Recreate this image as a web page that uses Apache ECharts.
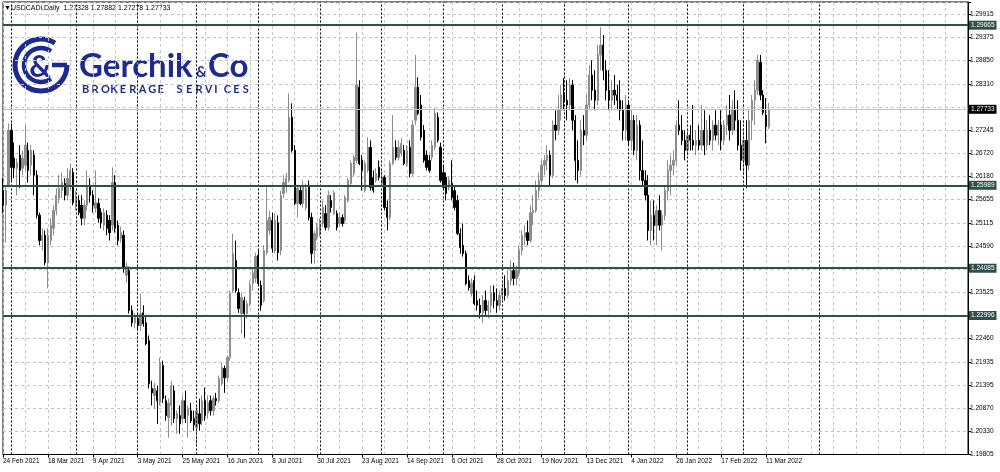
<!DOCTYPE html>
<html>
<head>
<meta charset="utf-8">
<script src="https://cdn.jsdelivr.net/npm/echarts@6/dist/echarts.min.js"></script>
<style>
html,body{margin:0;padding:0;background:#ffffff;}
#chart{width:1000px;height:472px;}
</style>
</head>
<body>
<div id="chart"></div>
<script>
// ---------- data ----------
const headerText = '\u25BCUSDCADi,Daily  1.27328 1.27882 1.27278 1.27733';
const startDate = [2021, 2, 24];       // 24 Feb 2021 (first visible bar)
const slotCount = 345;                  // bars + empty shift to the right
const futureSeparatorIdx = 291;         // 1 Apr 2022 as placed in the empty area
const monthNames = ['Jan','Feb','Mar','Apr','May','Jun','Jul','Aug','Sep','Oct','Nov','Dec'];
const priceTicks = ['1.19805','1.20330','1.20870','1.21395','1.21935','1.22460','1.22995','1.23525','1.24065','1.24590',
                    '1.25115','1.25655','1.26180','1.26720','1.27245','1.27770','1.28310','1.28850','1.29375','1.29915'];
const levelPrices = [1.29665, 1.25989, 1.24085, 1.22996];
const levelLabels = ['1.29665', '1.25989', '1.24085', '1.22996'];
const lastPrice = 1.27733;
const lastPriceLabel = '1.27733';

const opens = [
1.2587,1.2553,1.2599,1.2725,1.2661,1.2638,1.2668,1.2638,1.2645,1.2679,
1.2645,1.2668,1.2622,1.2530,1.2472,1.2484,1.2421,1.2472,1.2500,1.2541,
1.2569,1.2587,1.2603,1.2576,1.2599,1.2628,1.2553,1.2564,1.2553,1.2523,
1.2553,1.2599,1.2576,1.2546,1.2557,1.2536,1.2507,1.2530,1.2518,1.2507,
1.2605,1.2507,1.2477,1.2484,
1.2392,1.2403,1.2311,1.2283,1.2293,1.2277,
1.2306,1.2283,1.2242,1.2132,1.2116,1.2127,1.2099,1.2185,1.2104,1.2065,
1.2093,1.2127,1.2063,1.2070,1.2063,1.2104,1.2070,1.2081,1.2063,1.2042,
1.2074,1.2058,1.2104,1.2076,1.2104,1.2081,1.2109,1.2104,1.2143,1.2178,
1.2157,1.2203,1.2357,1.2426,1.2352,1.2304,1.2334,1.2304,1.2327,1.2373,1.2385,
1.2438,1.2369,1.2334,1.2444,1.2495,1.2518,1.2449,1.2513,1.2449,
1.2580,1.2599,1.2610,1.2755,1.2679,1.2557,1.2587,1.2557,1.2548,1.2599,
1.2525,1.2449,1.2479,1.2488,1.2511,1.2534,1.2502,1.2564,1.2534,1.2534,
1.2511,1.2525,1.2518,1.2564,1.2603,1.2626,1.2656,1.2824,1.2656,1.2587,
1.2633,1.2686,1.2617,1.2610,1.2640,1.2603,1.2617,1.2548,1.2525,1.2649,
1.2686,1.2663,1.2672,1.2679,1.2649,1.2686,1.2626,1.2748,1.2824,1.2783,
1.2725,1.2668,1.2656,1.2663,1.2686,1.2755,1.2686,1.2628,1.2617,1.2594,
1.2603,1.2587,1.2564,1.2488,1.2461,1.2442,1.2380,1.2350,1.2380,
1.2334,1.2323,1.2306,1.2334,1.2311,1.2323,1.2352,1.2334,1.2323,1.2346,1.2362,
1.2346,1.2380,1.2403,1.2385,1.2398,1.2449,1.2479,1.2490,1.2472,1.2536,
1.2541,1.2587,1.2610,1.2645,1.2656,1.2668,1.2622,1.2737,1.2725,1.2771,
1.2806,1.2794,1.2783,1.2829,1.2748,1.2656,1.2633,1.2725,1.2714,1.2783,
1.2852,1.2817,1.2794,1.2898,1.2921,1.2863,1.2817,1.2794,1.2817,1.2806,
1.2794,1.2771,1.2725,1.2783,1.2702,1.2748,1.2679,1.2737,1.2633,1.2610,
1.2576,1.2495,1.2530,1.2507,1.2541,1.2507,1.2530,1.2587,1.2633,1.2645,
1.2656,1.2737,1.2725,1.2702,1.2679,1.2714,1.2702,1.2691,1.2702,1.2691,
1.2725,1.2691,1.2725,1.2702,1.2737,1.2714,1.2737,1.2702,1.2737,1.2760,
1.2725,1.2771,1.2748,1.2691,1.2656,1.2702,1.2645,1.2748,1.2794,1.2817,
1.2881,1.2806,1.2760,1.27328
];
const highs = [
1.2615,1.2596,1.2741,1.2741,1.2697,1.2661,1.2691,1.2679,1.2737,1.2697,
1.2691,1.2679,1.2633,1.2536,1.2500,1.2495,1.2500,1.2523,1.2553,1.2592,
1.2622,1.2628,1.2615,1.2638,1.2649,1.2638,1.2587,1.2576,1.2576,1.2564,
1.2633,1.2615,1.2587,1.2633,1.2569,1.2546,1.2546,1.2541,1.2530,1.2640,
1.2622,1.2518,1.2504,1.2495,
1.2421,1.2412,1.2323,1.2306,1.2306,1.2350,
1.2323,1.2297,1.2254,1.2150,1.2145,1.2139,1.2203,1.2196,1.2116,1.2109,
1.2150,1.2139,1.2081,1.2093,1.2116,1.2127,1.2093,1.2099,1.2081,1.2093,
1.2109,1.2116,1.2134,1.2116,1.2116,1.2116,1.2122,1.2162,1.2191,1.2185,
1.2208,1.2357,1.2488,1.2472,1.2362,1.2352,1.2343,1.2334,1.2380,1.2408,1.2444,
1.2449,1.2380,1.2461,1.2594,1.2541,1.2536,1.2534,1.2530,1.2587,
1.2622,1.2628,1.2810,1.2787,1.2691,1.2599,1.2599,1.2610,1.2603,1.2610,
1.2536,1.2495,1.2513,1.2523,1.2564,1.2553,1.2587,1.2576,1.2587,1.2541,
1.2536,1.2532,1.2576,1.2615,1.2656,1.2668,1.2950,1.2840,1.2668,1.2656,
1.2709,1.2702,1.2633,1.2638,1.2656,1.2633,1.2622,1.2564,1.2656,1.2760,
1.2702,1.2702,1.2707,1.2691,1.2691,1.2702,1.2748,1.2898,1.2847,1.2806,
1.2737,1.2679,1.2668,1.2702,1.2776,1.2766,1.2697,1.2645,1.2628,1.2619,
1.2656,1.2599,1.2576,1.2500,1.2511,1.2449,1.2392,1.2385,1.2392,
1.2357,1.2339,1.2346,1.2357,1.2334,1.2369,1.2369,1.2362,1.2357,1.2375,1.2392,
1.2403,1.2426,1.2421,1.2415,1.2461,1.2495,1.2507,1.2518,1.2553,1.2576,
1.2610,1.2628,1.2656,1.2668,1.2691,1.2679,1.2748,1.2771,1.2806,1.2829,
1.2845,1.2840,1.2845,1.2840,1.2760,1.2702,1.2748,1.2760,1.2806,1.2875,
1.2886,1.2863,1.2921,1.2962,1.2944,1.2886,1.2863,1.2840,1.2852,1.2829,
1.2840,1.2794,1.2806,1.2794,1.2771,1.2760,1.2760,1.2748,1.2702,1.2633,
1.2622,1.2564,1.2564,1.2553,1.2576,1.2541,1.2599,1.2656,1.2668,1.2679,
1.2748,1.2794,1.2760,1.2725,1.2725,1.2737,1.2783,1.2725,1.2737,1.2783,
1.2771,1.2748,1.2760,1.2748,1.2771,1.2748,1.2771,1.2748,1.2783,1.2806,
1.2794,1.2817,1.2794,1.2748,1.2725,1.2748,1.2771,1.2806,1.2840,1.2898,
1.2898,1.2817,1.2799,1.27882
];
const lows = [
1.2536,1.2467,1.2594,1.2610,1.2615,1.2576,1.2592,1.2622,1.2633,1.2605,
1.2622,1.2576,1.2523,1.2461,1.2449,1.2415,1.2362,1.2461,1.2484,1.2530,
1.2557,1.2569,1.2564,1.2564,1.2587,1.2553,1.2541,1.2530,1.2507,1.2507,
1.2541,1.2559,1.2536,1.2536,1.2513,1.2500,1.2495,1.2484,1.2472,1.2495,
1.2490,1.2461,1.2467,1.2398,
1.2375,1.2304,1.2274,1.2270,1.2265,1.2265,
1.2274,1.2231,1.2132,1.2093,1.2086,1.2051,1.2093,1.2099,1.2058,1.2019,
1.2047,1.2053,1.2028,1.2028,1.2053,1.2053,1.2019,1.2053,1.2035,1.2001,
1.2035,1.2047,1.2058,1.2063,1.2070,1.2070,1.2093,1.2099,1.2139,1.2122,
1.2150,1.2196,1.2352,1.2352,1.2306,1.2258,1.2249,1.2293,1.2320,1.2357,1.2375,
1.2369,1.2311,1.2329,1.2438,1.2484,1.2444,1.2442,1.2426,1.2438,
1.2569,1.2582,1.2605,1.2674,1.2553,1.2525,1.2553,1.2548,1.2541,1.2518,
1.2419,1.2419,1.2472,1.2481,1.2504,1.2495,1.2495,1.2536,1.2530,1.2495,
1.2504,1.2504,1.2511,1.2559,1.2599,1.2619,1.2649,1.2645,1.2587,1.2582,
1.2628,1.2587,1.2582,1.2605,1.2610,1.2599,1.2541,1.2495,1.2518,1.2645,
1.2656,1.2656,1.2665,1.2645,1.2642,1.2617,1.2619,1.2737,1.2760,1.2702,
1.2651,1.2633,1.2628,1.2656,1.2679,1.2697,1.2605,1.2587,1.2564,1.2587,
1.2564,1.2541,1.2484,1.2442,1.2435,1.2369,1.2357,1.2343,1.2323,
1.2311,1.2293,1.2283,1.2300,1.2293,1.2306,1.2316,1.2306,1.2311,1.2334,1.2334,
1.2339,1.2369,1.2369,1.2369,1.2389,1.2438,1.2461,1.2461,1.2467,1.2507,
1.2536,1.2569,1.2599,1.2622,1.2633,1.2599,1.2615,1.2702,1.2714,1.2748,
1.2771,1.2748,1.2771,1.2725,1.2610,1.2603,1.2622,1.2691,1.2702,1.2771,
1.2794,1.2771,1.2783,1.2863,1.2840,1.2794,1.2771,1.2771,1.2783,1.2771,
1.2748,1.2702,1.2702,1.2691,1.2679,1.2668,1.2656,1.2610,1.2599,1.2564,
1.2472,1.2461,1.2472,1.2461,1.2495,1.2449,1.2518,1.2564,1.2576,1.2622,
1.2645,1.2714,1.2691,1.2656,1.2668,1.2679,1.2679,1.2668,1.2679,1.2679,
1.2668,1.2679,1.2691,1.2679,1.2702,1.2691,1.2679,1.2691,1.2714,1.2702,
1.2714,1.2725,1.2679,1.2633,1.2622,1.2592,1.2633,1.2702,1.2737,1.2806,
1.2794,1.2760,1.2695,1.27278
];
const closes = [
1.2553,1.2587,1.2725,1.2640,1.2638,1.2651,1.2633,1.2661,1.2691,1.2633,
1.2679,1.2622,1.2530,1.2472,1.2484,1.2421,1.2484,1.2507,1.2541,1.2576,
1.2592,1.2605,1.2576,1.2615,1.2633,1.2559,1.2569,1.2536,1.2523,1.2553,
1.2599,1.2576,1.2553,1.2559,1.2523,1.2513,1.2536,1.2500,1.2490,1.2605,
1.2500,1.2472,1.2490,1.2408,
1.2412,1.2311,1.2283,1.2295,1.2277,1.2304,
1.2281,1.2235,1.2143,1.2122,1.2132,1.2104,1.2191,1.2109,1.2070,1.2099,
1.2139,1.2063,1.2074,1.2051,1.2104,1.2063,1.2086,1.2058,1.2049,1.2081,
1.2051,1.2104,1.2070,1.2099,1.2081,1.2109,1.2104,1.2155,1.2180,1.2157,
1.2203,1.2350,1.2442,1.2357,1.2316,1.2341,1.2304,1.2327,1.2369,1.2398,1.2435,
1.2373,1.2323,1.2449,1.2518,1.2525,1.2454,1.2518,1.2444,1.2576,
1.2605,1.2615,1.2755,1.2679,1.2557,1.2592,1.2557,1.2599,1.2592,1.2525,
1.2442,1.2488,1.2502,1.2511,1.2548,1.2502,1.2576,1.2548,1.2582,1.2502,
1.2525,1.2511,1.2571,1.2610,1.2649,1.2663,1.2829,1.2649,1.2633,1.2649,
1.2686,1.2594,1.2587,1.2626,1.2617,1.2617,1.2548,1.2525,1.2649,1.2686,
1.2663,1.2686,1.2695,1.2649,1.2679,1.2626,1.2737,1.2824,1.2764,1.2709,
1.2656,1.2640,1.2633,1.2691,1.2764,1.2702,1.2610,1.2594,1.2580,1.2610,
1.2571,1.2548,1.2488,1.2456,1.2442,1.2373,1.2364,1.2373,1.2327,
1.2323,1.2306,1.2334,1.2311,1.2323,1.2352,1.2334,1.2323,1.2346,1.2362,1.2346,
1.2380,1.2403,1.2385,1.2403,1.2449,1.2484,1.2490,1.2472,1.2536,1.2541,
1.2587,1.2610,1.2645,1.2656,1.2668,1.2622,1.2737,1.2725,1.2771,1.2806,
1.2794,1.2783,1.2829,1.2748,1.2656,1.2633,1.2725,1.2714,1.2783,1.2852,
1.2817,1.2794,1.2898,1.2921,1.2863,1.2817,1.2794,1.2817,1.2806,1.2794,
1.2771,1.2725,1.2783,1.2702,1.2748,1.2679,1.2737,1.2633,1.2610,1.2576,
1.2495,1.2530,1.2507,1.2541,1.2507,1.2530,1.2587,1.2633,1.2645,1.2656,
1.2737,1.2725,1.2702,1.2679,1.2714,1.2702,1.2691,1.2702,1.2691,1.2725,
1.2691,1.2725,1.2702,1.2737,1.2714,1.2737,1.2702,1.2737,1.2760,1.2725,
1.2771,1.2748,1.2691,1.2656,1.2702,1.2645,1.2748,1.2794,1.2817,1.2886,
1.2806,1.2766,1.2733,1.27733
];

// ---------- build ----------
const barCount = Math.min(opens.length, highs.length, lows.length, closes.length);
const Y0 = parseFloat(priceTicks[0]);
const Y1 = parseFloat(priceTicks[priceTicks.length - 1]);
const STEP = (Y1 - Y0) / (priceTicks.length - 1);
const T = p => (p - Y0) / STEP;

const GRID_TOP = 2, GRID_BOTTOM = 17.5, GRID_LEFT = 2, GRID_RIGHT = 32;
const PX_PER_TICK = 23.168;
const yMax = (472 - GRID_TOP - GRID_BOTTOM) / PX_PER_TICK;

const dates = [];
(function () {
  const d = new Date(Date.UTC(startDate[0], startDate[1] - 1, startDate[2]));
  while (dates.length < slotCount) {
    const wd = d.getUTCDay();
    if (wd !== 0 && wd !== 6) dates.push(new Date(d.getTime()));
    d.setUTCDate(d.getUTCDate() + 1);
  }
})();
const catLabels = dates.map(dt => dt.getUTCDate() + ' ' + monthNames[dt.getUTCMonth()] + ' ' + dt.getUTCFullYear());

const candleData = [];
for (let i = 0; i < barCount; i++) {
  candleData.push([T(opens[i]), T(closes[i]), T(lows[i]), T(highs[i])]);
}

const FONT = 'Liberation Sans';
const labelFont = 6.5;

// month period separators (on existing bars) + the next one in the empty area
const sepStyle = { color: '#000', type: [2, 2], width: 1 };
const sepLines = [];
for (let i = 1; i < barCount; i++) {
  if (dates[i].getUTCMonth() !== dates[i - 1].getUTCMonth()) {
    sepLines.push({ xAxis: i, lineStyle: sepStyle, label: { show: false } });
  }
}
sepLines.push({ xAxis: futureSeparatorIdx, lineStyle: sepStyle, label: { show: false } });

const LEVEL_COLOR = '#2e4f4a';
const levelLines = levelPrices.map((p, k) => ({
  yAxis: T(p),
  lineStyle: { color: LEVEL_COLOR, width: 2, type: 'solid' },
  label: {
    show: true, position: 'end', formatter: levelLabels[k], color: '#fff',
    backgroundColor: LEVEL_COLOR, fontSize: labelFont, fontFamily: FONT,
    padding: [1, 2, 1, 2], distance: 1
  }
}));
const currentLine = {
  yAxis: T(lastPrice),
  lineStyle: { color: '#c0c0c0', width: 1, type: 'solid' },
  label: {
    show: true, position: 'end', formatter: lastPriceLabel, color: '#fff',
    backgroundColor: '#000', fontSize: labelFont, fontFamily: FONT,
    padding: [1, 2, 1, 2], distance: 1
  }
};
const hiddenTick = i => levelPrices.concat([lastPrice]).some(p => Math.abs(T(p) - i) < 0.3);

const isLabelIdx = i => i % 16 === 0 && i < barCount;

const LOGO = '#1d2b8f';
const brandWord = 'BROKERAGE SERVICES';
const brandGraphics = [];
(function () {
  let x = 82;
  const step = 9.45;
  for (const ch of brandWord) {
    if (ch !== ' ') {
      brandGraphics.push({
        type: 'text', x: x, y: 89, silent: true,
        style: { text: ch, font: 'bold 11px Lato', fill: LOGO, align: 'left', verticalAlign: 'middle' }
      });
    }
    x += step;
  }
})();

const chart = echarts.init(document.getElementById('chart'), null, { renderer: 'canvas' });
chart.setOption({
  animation: false,
  backgroundColor: '#ffffff',
  grid: {
    left: GRID_LEFT, right: GRID_RIGHT, top: GRID_TOP, bottom: GRID_BOTTOM,
    show: true, borderColor: '#000', borderWidth: 1, backgroundColor: '#fff'
  },
  xAxis: {
    type: 'category', data: catLabels, boundaryGap: false,
    axisLine: { show: true, lineStyle: { color: '#000', width: 1 } },
    axisTick: { show: true, length: 3, interval: (i) => isLabelIdx(i), lineStyle: { color: '#000' } },
    axisLabel: {
      interval: (i) => isLabelIdx(i), align: 'left', margin: 3,
      fontSize: labelFont, fontFamily: FONT, color: '#000'
    },
    splitLine: { show: true, interval: (i) => i % 8 === 0, lineStyle: { color: '#c4c4c4', type: [3, 3], width: 1 } }
  },
  yAxis: {
    type: 'value', position: 'right', min: 0, max: yMax, interval: 1,
    axisLine: { show: true, lineStyle: { color: '#000' } },
    axisTick: { show: true, length: 3, lineStyle: { color: '#000' } },
    axisLabel: {
      margin: 2, fontSize: labelFont, fontFamily: FONT, color: '#000',
      formatter: (v) => {
        const i = Math.round(v);
        if (Math.abs(v - i) > 1e-6 || i < 0 || i >= priceTicks.length || hiddenTick(i)) return '';
        return priceTicks[i];
      }
    },
    splitLine: { show: true, lineStyle: { color: '#c4c4c4', type: [3, 3], width: 1 } }
  },
  graphic: [
    { type: 'text', x: 4, y: 8, silent: true,
      style: { text: headerText, font: '7px "' + FONT + '", "DejaVu Sans"', fill: '#000', align: 'left', verticalAlign: 'middle' } },
    { type: 'arc', silent: true, shape: { cx: 41, cy: 65, r: 26, startAngle: 0, endAngle: Math.PI * 1.68, clockwise: true },
      style: { stroke: LOGO, lineWidth: 5, fill: null } },
    { type: 'line', silent: true, shape: { x1: 67, y1: 65, x2: 52, y2: 65 }, style: { stroke: LOGO, lineWidth: 4.5 } },
    { type: 'arc', silent: true, shape: { cx: 41, cy: 65, r: 17, startAngle: Math.PI * 0.3, endAngle: Math.PI * 1.7, clockwise: true },
      style: { stroke: LOGO, lineWidth: 4.5, fill: null } },
    { type: 'text', x: 40, y: 67, silent: true,
      style: { text: '&', font: 'bold 30px Lato', fill: LOGO, align: 'center', verticalAlign: 'middle' } },
    { type: 'text', x: 79, y: 66, silent: true,
      style: { text: 'Gerchik', font: 'bold 33px Lato', fill: LOGO, align: 'left', verticalAlign: 'middle' } },
    { type: 'text', x: 196, y: 72, silent: true,
      style: { text: '&', font: 'bold 15px Lato', fill: LOGO, align: 'left', verticalAlign: 'middle' } },
    { type: 'text', x: 208, y: 66, silent: true,
      style: { text: 'Co', font: 'bold 33px Lato', fill: LOGO, align: 'left', verticalAlign: 'middle' } }
  ].concat(brandGraphics),
  series: [
    {
      type: 'line', data: [], silent: true, z: 1, symbol: 'none',
      markLine: { symbol: 'none', silent: true, animation: false, data: sepLines }
    },
    {
      type: 'candlestick', z: 3, data: candleData, barWidth: 1.8, clip: false, silent: true,
      itemStyle: { color: '#8c8c8c', color0: '#000000', borderColor: '#8c8c8c', borderColor0: '#000000', borderWidth: 1 },
      markLine: { symbol: 'none', silent: true, animation: false, data: levelLines.concat([currentLine]) }
    }
  ]
});
</script>
</body>
</html>
